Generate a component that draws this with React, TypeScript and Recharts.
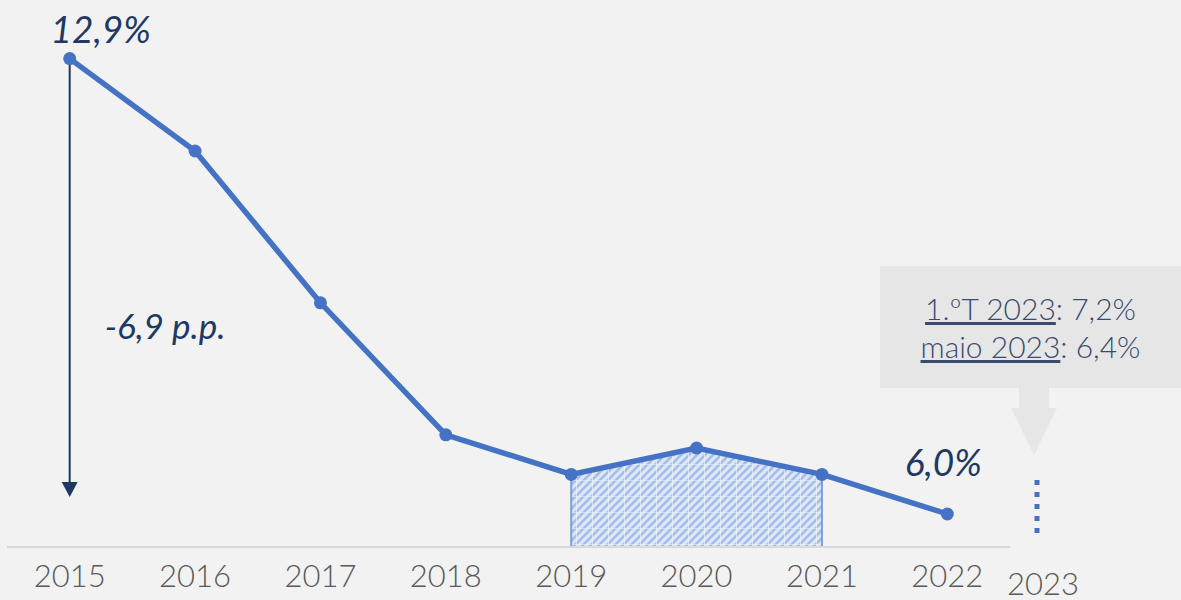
import React from 'react';
import { ComposedChart, Line, Area, XAxis, YAxis, LabelList, ReferenceLine } from 'recharts';

const years = ['2015', '2016', '2017', '2018', '2019', '2020', '2021', '2022'];
const rate = [12.9, 11.5, 9.2, 7.2, 6.6, 7.0, 6.6, 6.0];
const shadedYears = ['2019', '2020', '2021'];
const nextYear = '2023';
const calloutRows = [
  { period: '1.ºT 2023', value: '7,2%' },
  { period: 'maio 2023', value: '6,4%' },
];

const yMin = 5.5;
const yMax = 13.5;

const data = years.map((year, i) => ({
  year,
  rate: rate[i],
  shade: shadedYears.includes(year) ? rate[i] : null,
}));

const fmt = (v: number, d = 1) => v.toFixed(d).replace('.', ',');

const FONT = 'Lato, "Open Sans", sans-serif';
const BLUE = '#4472c4';
const NAVY = '#1f3864';

const shadeStart = shadedYears[0];
const shadeEnd = shadedYears[shadedYears.length - 1];
const rateOf = (y: string) => rate[years.indexOf(y)];
const drop = rate[0] - rate[rate.length - 1];

function PointLabel(props: any) {
  const { x, y, index, value } = props;
  if (index === 0) {
    return (
      <text x={x + 31} y={y - 16} textAnchor="middle" fill={NAVY} fontSize={37} fontStyle="italic" fontFamily={FONT}>
        {fmt(value)}%
      </text>
    );
  }
  if (index === rate.length - 1) {
    return (
      <text x={x - 4} y={y - 38} textAnchor="middle" fill={NAVY} fontSize={37} fontStyle="italic" fontFamily={FONT}>
        {fmt(value)}%
      </text>
    );
  }
  return null;
}

function DropArrow(props: any) {
  const { x1, y1, x2, y2 } = props;
  const tip = y2 - 17;
  return (
    <g>
      <line x1={x1} y1={y1} x2={x2} y2={tip - 14} stroke={NAVY} strokeWidth={2} />
      <polygon points={`${x2 - 8},${tip - 15} ${x2 + 8},${tip - 15} ${x2},${tip}`} fill={NAVY} />
      <text x={x1 + 35} y={y1 + 280} fill={NAVY} fontSize={35} fontStyle="italic" fontFamily={FONT}>
        -{fmt(drop)} p.p.
      </text>
    </g>
  );
}

export default function App() {
  return (
    <div style={{ position: 'relative', width: 1181, height: 600, background: '#f2f2f2', fontFamily: FONT, overflow: 'hidden' }}>
      <style>{'body{margin:0}'}</style>
      <ComposedChart width={1181} height={600} data={data} margin={{ top: 19, right: 171, left: 7, bottom: 13 }}>
        <defs>
          <pattern id="hatch" patternUnits="userSpaceOnUse" width={16} height={16}>
            <rect width={16} height={16} fill="#dde6f5" />
            <path d="M-4,4 L4,-4 M-4,12 L12,-4 M-4,20 L20,-4 M4,20 L20,4 M12,20 L20,12" stroke="#a4bde8" strokeWidth={2.6} />
            <path d="M0,0 L16,0 M0,0 L0,16" stroke="#f4f7fc" strokeWidth={1.2} />
          </pattern>
        </defs>
        <XAxis
          dataKey="year"
          scale="band"
          height={40}
          tickLine={false}
          tickMargin={12}
          axisLine={{ stroke: '#d9d9d9', strokeWidth: 2 }}
          tick={{ fill: '#595959', fontSize: 31, fontWeight: 300, fontFamily: FONT }}
          interval={0}
        />
        <YAxis hide type="number" domain={[yMin, yMax]} allowDataOverflow />
        <Area
          dataKey="shade"
          type="linear"
          fill="url(#hatch)"
          fillOpacity={1}
          stroke="#7f9fd6"
          strokeWidth={2}
          baseValue={yMin}
          isAnimationActive={false}
          dot={false}
          activeDot={false}
        />
        <ReferenceLine segment={[{ x: shadeStart, y: yMin }, { x: shadeStart, y: rateOf(shadeStart) }]} stroke="#7f9fd6" strokeWidth={2} />
        <ReferenceLine segment={[{ x: shadeEnd, y: yMin }, { x: shadeEnd, y: rateOf(shadeEnd) }]} stroke="#7f9fd6" strokeWidth={2} />
        <ReferenceLine segment={[{ x: shadeStart, y: yMin }, { x: shadeEnd, y: yMin }]} stroke="#7f9fd6" strokeWidth={2} />
        <ReferenceLine
          segment={[{ x: years[0], y: rate[0] }, { x: years[0], y: rate[rate.length - 1] }]}
          shape={DropArrow}
        />
        <Line
          dataKey="rate"
          type="linear"
          stroke={BLUE}
          strokeWidth={5.5}
          dot={{ r: 6.5, fill: BLUE, stroke: BLUE, strokeWidth: 0 }}
          activeDot={false}
          isAnimationActive={false}
        >
          <LabelList dataKey="rate" content={PointLabel} />
        </Line>
      </ComposedChart>

      {/* 2023 marker */}
      <svg style={{ position: 'absolute', left: 0, top: 0 }} width={1181} height={600}>
        <line x1={1037} y1={480} x2={1037} y2={540} stroke={BLUE} strokeWidth={5} strokeDasharray="5 7" />
        <text x={1043} y={595} textAnchor="middle" fill="#595959" fontSize={31} fontWeight={300} fontFamily={FONT}>
          {nextYear}
        </text>
        <polygon points="1019,388 1049,388 1049,408 1057,408 1034,455 1011,408 1019,408" fill="#e6e6e6" />
      </svg>

      {/* callout */}
      <div
        style={{
          position: 'absolute',
          left: 880,
          top: 266,
          width: 301,
          height: 122,
          background: '#e6e6e6',
          color: '#3b4b6e',
          fontSize: 30,
          fontWeight: 300,
          lineHeight: '38px',
          textAlign: 'center',
          paddingTop: 23,
          boxSizing: 'border-box',
        }}
      >
        {calloutRows.map((r) => (
          <div key={r.period}>
            <span style={{ textDecoration: 'underline' }}>{r.period}</span>: {r.value}
          </div>
        ))}
      </div>
    </div>
  );
}
